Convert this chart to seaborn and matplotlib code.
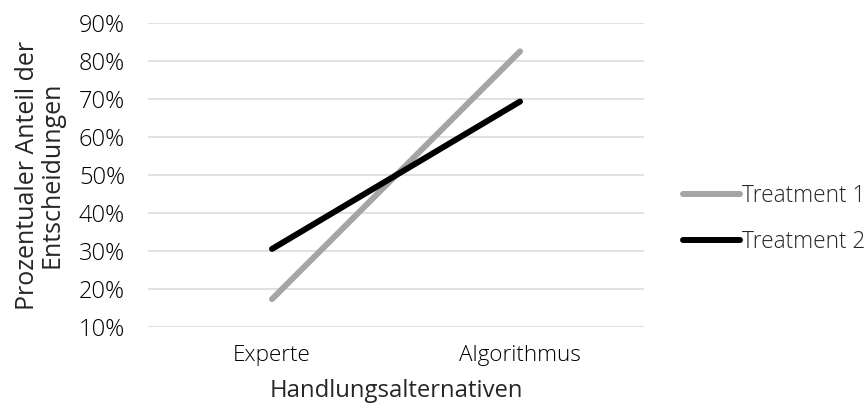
import matplotlib
matplotlib.use('Agg')
import matplotlib.pyplot as plt
import seaborn as sns
import pandas as pd
from matplotlib.ticker import PercentFormatter

# ── Data ──────────────────────────────────────────────────────────────────
categories  = ['Experte', 'Algorithmus']
treatment_1 = [17.4, 82.6]
treatment_2 = [30.6, 69.4]
series      = ['Treatment 1', 'Treatment 2']
y_ticks     = [10, 20, 30, 40, 50, 60, 70, 80, 90]

df = pd.DataFrame({
    'alt':   categories * 2,
    'share': treatment_1 + treatment_2,
    'group': [series[0]] * 2 + [series[1]] * 2,
})
df['x'] = df['alt'].map({c: i for i, c in enumerate(categories)})

sns.set_theme(style='white')
plt.rcParams['font.family'] = ['Open Sans', 'DejaVu Sans']
plt.rcParams['font.weight'] = 'light'

fig = plt.figure(figsize=(8.68, 4.08), dpi=100)
ax = fig.add_axes([0.1705, 0.198, 0.5715, 0.745])

palette = {series[0]: '#a5a5a5', series[1]: '#000000'}
sns.lineplot(data=df, x='x', y='share', hue='group', palette=palette,
             linewidth=4.3, solid_capstyle='round', ax=ax)

ax.set_xlim(-0.5, 1.5)
ax.set_ylim(10, 90)
ax.set_yticks(y_ticks)
ax.yaxis.set_major_formatter(PercentFormatter(decimals=0))
ax.set_xticks(range(len(categories)))
ax.set_xticklabels(categories)
ax.grid(axis='y', color='#d9d9d9', linewidth=1.1)
ax.set_axisbelow(True)
for s in ax.spines.values():
    s.set_visible(False)
ax.tick_params(axis='both', length=0, labelsize=17, colors='#000000')
ax.tick_params(axis='x', pad=13, labelsize=16.2)
ax.tick_params(axis='y', pad=16.5)

ax.set_xlabel('Handlungsalternativen', fontsize=17.2, labelpad=9)
ax.set_ylabel('Prozentualer Anteil der\nEntscheidungen', fontsize=18,
              linespacing=0.95)
ax.yaxis.set_label_coords(-0.169, 0.5)

handles, labels = ax.get_legend_handles_labels()
for h in handles:
    h.set_solid_capstyle('round')
ax.legend(handles, labels, loc='center left', bbox_to_anchor=(0.787, 0.463),
          bbox_transform=fig.transFigure, frameon=False, fontsize=16.3,
          handlelength=2.52, handletextpad=0.1, labelspacing=0.95,
          borderpad=0, borderaxespad=0)

plt.savefig('out.png', dpi=100)
plt.close()
